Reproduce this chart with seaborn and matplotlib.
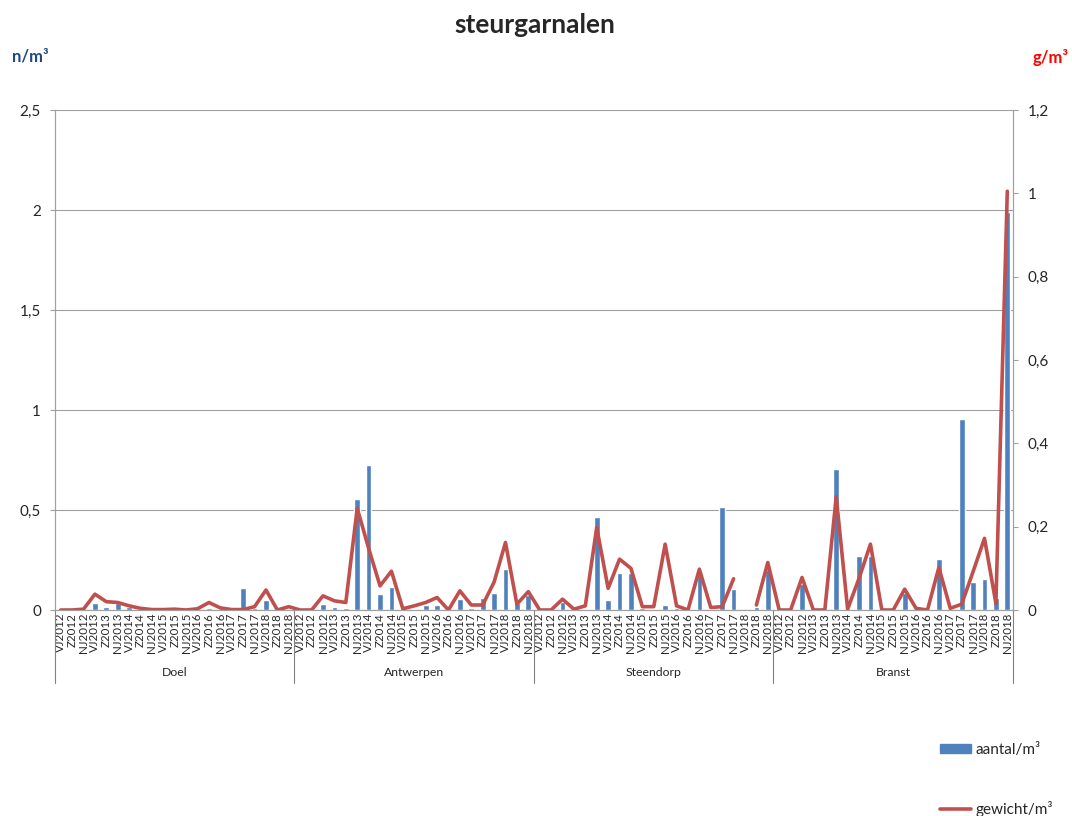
import numpy as np
import pandas as pd
import matplotlib
matplotlib.use("Agg")
import matplotlib.pyplot as plt
import matplotlib.transforms as mtransforms
from matplotlib.ticker import FuncFormatter
from matplotlib.patches import Patch
from matplotlib.lines import Line2D
import seaborn as sns

# ---------- DATA ----------
stations = ["Doel", "Antwerpen", "Steendorp", "Branst"]
periods = ["VJ2012", "Z2012", "NJ2012", "VJ2013", "Z2013", "NJ2013",
           "VJ2014", "Z2014", "NJ2014", "VJ2015", "Z2015", "NJ2015",
           "VJ2016", "Z2016", "NJ2016", "VJ2017", "Z2017", "NJ2017",
           "VJ2018", "Z2018", "NJ2018"]

# aantal/m3 (left axis)
aantal_doel = [0, 0, 0, 0.037, 0.017, 0.033, 0.013, 0, 0, 0, 0, 0,
               0, 0.012, 0, 0, 0.11, 0.008, 0.05, 0, 0.007]
aantal_antwerpen = [0, 0, 0.03, 0.013, 0.008, 0.557, 0.725, 0.08, 0.117, 0, 0.005, 0.023,
                    0.027, 0, 0.053, 0.012, 0.06, 0.083, 0.203, 0.033, 0.075]
aantal_steendorp = [0, 0, 0.04, 0, 0.007, 0.467, 0.05, 0.183, 0.187, 0.008, 0.005, 0.027,
                    0.01, 0, 0.175, 0.005, 0.515, 0.105, 0, 0.013, 0.2]
aantal_branst = [0, 0, 0.13, 0, 0, 0.703, 0, 0.27, 0.27, 0, 0, 0.083,
                 0, 0, 0.255, 0, 0.953, 0.142, 0.155, 0.058, 1.99]

# gewicht/m3 (right axis)
gewicht_doel = [0, 0, 0.002, 0.038, 0.02, 0.018, 0.01, 0.004, 0.001, 0.001, 0.002, 0,
                0.003, 0.018, 0.005, 0.001, 0.001, 0.008, 0.048, 0, 0.008]
gewicht_antwerpen = [0, 0, 0.034, 0.022, 0.018, 0.244, 0.148, 0.058, 0.093, 0.003, 0.01, 0.018,
                     0.03, 0, 0.046, 0.012, 0.012, 0.067, 0.162, 0.014, 0.044]
gewicht_steendorp = [0, 0, 0.026, 0.002, 0.01, 0.198, 0.052, 0.122, 0.1, 0.008, 0.008, 0.158,
                     0.01, 0, 0.098, 0.006, 0.008, 0.075, np.nan, 0.012, 0.114]
gewicht_branst = [0, 0, 0.078, 0, 0, 0.272, 0.002, 0.076, 0.158, 0, 0, 0.05,
                  0.004, 0, 0.102, 0.004, 0.014, 0.092, 0.172, 0.016, 1.005]

aantal = aantal_doel + aantal_antwerpen + aantal_steendorp + aantal_branst
gewicht = gewicht_doel + gewicht_antwerpen + gewicht_steendorp + gewicht_branst

df = pd.DataFrame({
    "station": np.repeat(stations, len(periods)),
    "periode": periods * len(stations),
    "aantal": aantal,
    "gewicht": gewicht,
})
df["key"] = df["station"] + "|" + df["periode"]
df["pos"] = np.arange(len(df))
df["segment"] = df["gewicht"].isna().cumsum()

# ---------- STYLE ----------
sns.set_style("white")
plt.rcParams["font.family"] = ["Lato", "DejaVu Sans"]

blue = "#4F81BD"
red = "#C0504D"
grey = "#A0A0A0"
comma = FuncFormatter(lambda v, p: f"{v:g}".replace(".", ","))

fig = plt.figure(figsize=(10.72, 8.16), dpi=100)
ax = fig.add_axes([55 / 1072, 1 - 610 / 816, (1013 - 55) / 1072, 500 / 816])

# bars
sns.barplot(data=df, x="key", y="aantal", color=blue, saturation=1,
            width=0.5, ax=ax, order=df["key"])
ax.set_ylim(0, 2.5)
ax.set_yticks(np.arange(0, 2.51, 0.5))
ax.yaxis.set_major_formatter(comma)
ax.set_xlim(-0.5, len(df) - 0.5)
ax.set_xticks(df["pos"])
ax.set_xticklabels(df["periode"], rotation=90, fontsize=8.3)
ax.set_xlabel("")
ax.set_ylabel("")
ax.yaxis.grid(True, color=grey, lw=0.8)
ax.set_axisbelow(True)
ax.tick_params(axis="x", length=0, pad=2)
ax.tick_params(axis="y", length=3.6, color=grey, labelsize=11, pad=6.5)
ax.spines["top"].set_visible(False)
for s in ["left", "bottom", "right"]:
    ax.spines[s].set_color(grey)
    ax.spines[s].set_linewidth(0.8)

# line on secondary axis
ax2 = ax.twinx()
sns.lineplot(data=df.dropna(subset=["gewicht"]), x="pos", y="gewicht",
             units="segment", estimator=None, color=red, lw=2.6, ax=ax2)
ax2.set_ylim(0, 1.2)
ax2.set_yticks(np.arange(0, 1.21, 0.2))
ax2.yaxis.set_major_formatter(comma)
ax2.set_xlabel("")
ax2.set_ylabel("")
ax2.tick_params(axis="y", length=3.6, color=grey, labelsize=11, pad=7)
ax2.spines["top"].set_visible(False)
for s in ["left", "bottom", "right"]:
    ax2.spines[s].set_color(grey)
    ax2.spines[s].set_linewidth(0.8)

# station groups under the period labels
trans = mtransforms.blended_transform_factory(ax.transData, ax.transAxes)
n = len(periods)
for i, st in enumerate(stations):
    ax.text(i * n + (n - 1) / 2, -0.124, st, transform=trans,
            ha="center", va="center", fontsize=8.8)
for b in range(len(stations) + 1):
    ax.plot([b * n - 0.5, b * n - 0.5], [0, -0.146], transform=trans,
            color="#808080", lw=0.8, clip_on=False)

# titles
fig.text(0.499, 1 - 25 / 816, "steurgarnalen", ha="center", va="center",
         fontsize=19, fontweight="bold")
fig.text(30 / 1072, 1 - 57 / 816, "n/m³", ha="center", va="center",
         fontsize=12, fontweight="bold", color="#1F497D")
fig.text(1051 / 1072, 1 - 57 / 816, "g/m³", ha="center", va="center",
         fontsize=12, fontweight="bold", color="#FF0000")

# legend
handles = [Patch(color=blue), Line2D([], [], color=red, lw=2.6)]
fig.legend(handles, ["aantal/m³", "gewicht/m³"], loc="upper left",
           bbox_to_anchor=(940 / 1072, 1 - 743 / 816), frameon=False,
           fontsize=11, labelspacing=2.9, borderpad=0, borderaxespad=0,
           handlelength=2.0, handleheight=0.5, handletextpad=0.3)

fig.savefig("out.png", dpi=100)
